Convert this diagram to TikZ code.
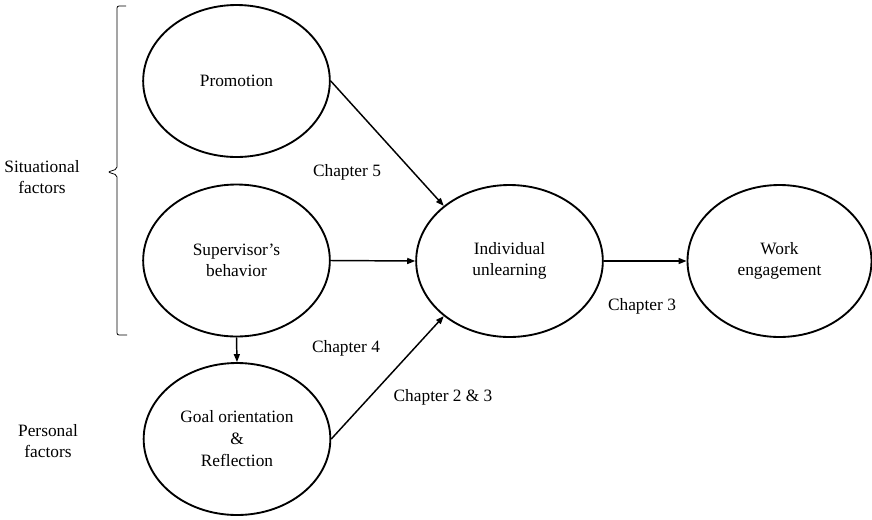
\documentclass[tikz,border=0pt]{standalone}
\usepackage{fontspec}
\setmainfont{Liberation Serif}
\usetikzlibrary{shapes.geometric,arrows.meta}

\begin{document}
\begin{tikzpicture}[x=0.75pt,y=-0.75pt,
  factor/.style={ellipse,draw,line width=1.4pt,minimum width=140pt,minimum height=114pt,
    inner sep=0pt,align=center,font=\fontsize{13}{15.5}\selectfont},
  txt/.style={inner sep=0pt,align=center,font=\fontsize{13}{15.5}\selectfont},
  link/.style={line width=1.1pt,-{Triangle[length=6pt,width=4.5pt]}}]

\useasboundingbox (0,0) rectangle (872,519);

% constructs
\node[factor] (promo) at (236.5,81) {Promotion};
\node[factor] (sup) at (236.5,260.5) {Supervisor’s\\behavior};
\node[factor,font=\fontsize{13}{16.5}\selectfont] (goal) at (237,439) {Goal orientation\\\&\\Reflection};
\node[factor] (unl) at (509.5,261) {Individual\\unlearning};
\node[factor,minimum width=138pt] (work) at (779.5,261) {Work\\engagement};

% group labels
\node[txt] (sit) at (42,177) {Situational\\factors};
\node[txt] (pers) at (48,441) {Personal\\factors};

% bracket grouping the situational factors
\coordinate (brTop) at (126,6);
\coordinate (brTip) at (108,172);
\coordinate (brBot) at (127,335);
\draw[line width=0.6pt,rounded corners=1.5pt]
  (brTop) -- (117,6) -- (117,169) -- (brTip) -- (117,175) -- (117,335) -- (brBot);

% paths of the model
\draw[link] (promo.east) -- (unl.140);
\draw[link] (sup.east) -- (unl.west);
\draw[link] (goal.east) -- (unl.220);
\draw[link] (unl.east) -- (work.west);
\draw[link] (sup.south) -- (goal.north);

% chapter labels
\node[txt] (ch5) at (347,172) {Chapter 5};
\node[txt] (ch4) at (346,348) {Chapter 4};
\node[txt] (ch23) at (443,397) {Chapter 2 \& 3};
\node[txt] (ch3) at (642,306) {Chapter 3};
\end{tikzpicture}
\end{document}
